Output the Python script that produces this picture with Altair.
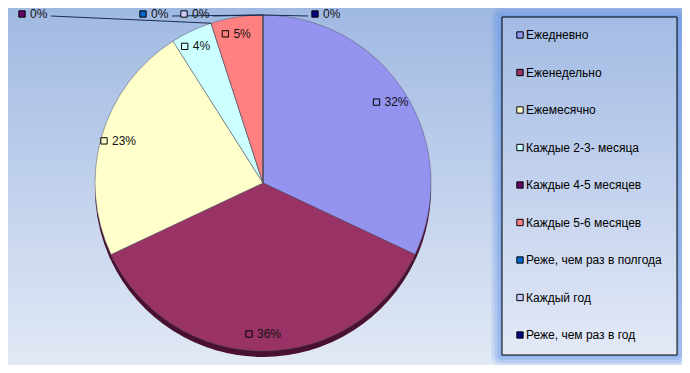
import math
import altair as alt
import pandas as pd

# ---- data ----
categories = ["Ежедневно", "Еженедельно", "Ежемесячно", "Каждые 2-3- месяца",
              "Каждые 4-5 месяцев", "Каждые 5-6 месяцев", "Реже, чем раз в полгода",
              "Каждый год", "Реже, чем раз в год"]
values = [32, 36, 23, 4, 0, 5, 0, 0, 0]
labels = ["32%", "36%", "23%", "4%", "0%", "5%", "0%", "0%", "0%"]
colors = ["#9494F0", "#993366", "#FFFFCC", "#CCFFFF", "#660066",
          "#FF8080", "#0066CC", "#CCCCFF", "#000080"]

# ---- layout (chart pixel coordinates) ----
W, H = 674, 357
CX, CY, R = 255, 175, 168
LABEL_R = 151
FONT = "Liberation Sans"
# anchors of the crowded zero-value labels (placed above the pie, as in the original)
zero_label_pos = {"Каждые 4-5 месяцев": (28, 6), "Реже, чем раз в полгода": (149, 6),
                  "Каждый год": (190, 6), "Реже, чем раз в год": (321, 6)}

total = sum(values)
rows = []
cum = 0.0
for i, (c, v, lab) in enumerate(zip(categories, values, labels)):
    start = cum
    cum += v
    mid = (start + v / 2) / total * 2 * math.pi
    edge = cum / total * 2 * math.pi if v == 0 else mid
    ex = CX + R * math.sin(edge)
    ey = CY - R * math.cos(edge)
    if v > 0:
        ax = CX + LABEL_R * math.sin(mid)
        ay = CY - LABEL_R * math.cos(mid)
        leader = False
        lx = ax
    else:
        ax, ay = zero_label_pos[c]
        leader = True
        lx = ax + 15 if ax < ex else ax - 21
    rows.append(dict(cat=c, val=v, label=lab, order=i, ax=ax, ay=ay,
                     ex=ex, ey=ey, lx=lx, ly=ay + 2, leader=leader))
df = pd.DataFrame(rows)

color_scale = alt.Scale(domain=categories, range=colors)

# background gradient
bg = alt.Chart(alt.Data(values=[{}])).mark_rect(
    fill={"gradient": "linear", "x1": 0, "y1": 0, "x2": 0, "y2": 1,
          "stops": [{"offset": 0, "color": "#A0B9E2"},
                    {"offset": 1, "color": "#E2E9F6"}]}
).encode(x=alt.value(0), x2=alt.value(W), y=alt.value(0), y2=alt.value(H))

# pie shadow
shadow = alt.Chart(df).mark_arc(outerRadius=R, color="#4A1030").encode(
    theta=alt.Theta("val:Q", stack=True),
    order=alt.Order("order:Q"),
    x=alt.value(CX), y=alt.value(CY + 6),
)

pie = alt.Chart(df).mark_arc(outerRadius=R, stroke="#555566", strokeWidth=0.5).encode(
    theta=alt.Theta("val:Q", stack=True),
    order=alt.Order("order:Q"),
    color=alt.Color("cat:N", scale=color_scale, legend=None),
    x=alt.value(CX), y=alt.value(CY),
)

# leader lines for the zero slices
leaders = alt.Chart(df).transform_filter("datum.leader").mark_rule(
    color="#1A2A50", strokeWidth=1
).encode(
    x=alt.X("lx:Q", scale=None), y=alt.Y("ly:Q", scale=None),
    x2="ex:Q", y2="ey:Q",
)

label_keys = alt.Chart(df).mark_square(size=40, stroke="#000000", strokeWidth=1,
                                       opacity=1).encode(
    x=alt.X("ax:Q", scale=None), y=alt.Y("ay:Q", scale=None),
    xOffset=alt.value(-14),
    color=alt.Color("cat:N", scale=color_scale, legend=None),
)

label_text = alt.Chart(df).mark_text(align="left", baseline="middle", dx=-6,
                                     font=FONT, fontSize=12, color="#111111").encode(
    x=alt.X("ax:Q", scale=None), y=alt.Y("ay:Q", scale=None),
    text="label:N",
)

# legend box with glow
LX0, LY0, LX1, LY1 = 494, 9, 669, 347
glow_layers = []
for k, op in [(11, 0.15), (8, 0.2), (5, 0.25), (2, 0.3)]:
    glow_layers.append(alt.Chart(alt.Data(values=[{}])).mark_rect(
        fill="#5E93E6", opacity=op, cornerRadius=k
    ).encode(x=alt.value(LX0 - k), x2=alt.value(LX1 + k),
             y=alt.value(LY0 - k), y2=alt.value(LY1 + k)))

legend_box = alt.Chart(alt.Data(values=[{}])).mark_rect(
    fill={"gradient": "linear", "x1": 0, "y1": 0, "x2": 0, "y2": 1,
          "stops": [{"offset": 0, "color": "#A3BBE4"},
                    {"offset": 1, "color": "#E3E9F6"}]},
    stroke="#000000", strokeWidth=1
).encode(x=alt.value(LX0), x2=alt.value(LX1), y=alt.value(LY0), y2=alt.value(LY1))

leg_y = alt.Y("cat:N", scale=alt.Scale(type="point", domain=categories,
                                       range=[LY0 + 18, LY1 - 20], padding=0),
              axis=None)
legend_sw = alt.Chart(df).mark_square(size=40, stroke="#000000", strokeWidth=1,
                                      opacity=1).encode(
    x=alt.value(LX0 + 18), y=leg_y,
    color=alt.Color("cat:N", scale=color_scale, legend=None),
)
legend_tx = alt.Chart(df).mark_text(align="left", baseline="middle", font=FONT,
                                    fontSize=12, color="#000000").encode(
    x=alt.value(LX0 + 24), y=leg_y, text="cat:N",
)

chart = alt.layer(
    bg, *glow_layers, legend_box, shadow, pie, leaders, label_keys, label_text,
    legend_sw, legend_tx
).resolve_scale(y="independent", x="independent").properties(
    width=W, height=H, padding=0, autosize=alt.AutoSizeParams(type="none")
).configure_view(stroke=None)

chart.save("out.html", embed_options={"renderer": "svg", "actions": False})
